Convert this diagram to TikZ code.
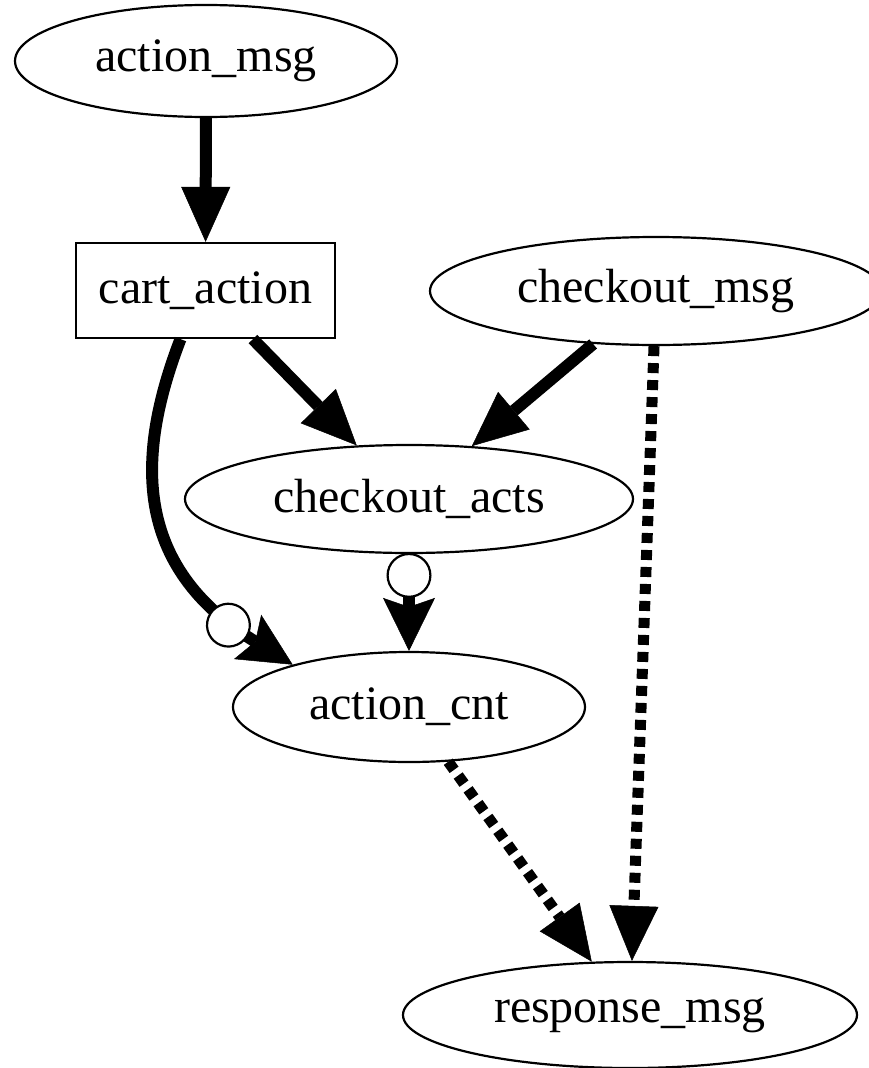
\documentclass[tikz,border=0pt]{standalone}
\usepackage{fontspec}
\setmainfont{Liberation Serif}
\usetikzlibrary{arrows.meta,shapes.geometric}
\begin{document}
\begin{tikzpicture}[x=1pt,y=-1pt,
  every node/.style={font=\fontsize{48}{58}\selectfont, inner sep=0pt},
  oval/.style={ellipse, draw, line width=2.2pt},
  box/.style={rectangle, draw, line width=2.2pt},
  bold/.style={line width=12pt, -{Triangle[length=55pt,width=49pt,line width=0.5pt]}},
  dots/.style={line width=11pt, dash pattern=on 10pt off 7pt,
    -{Triangle[length=55pt,width=49pt,line width=0.5pt]}},
  ringvee/.style={line width=12pt,
    -{Circle[fill=white,length=45pt,width=45pt,line width=2.2pt,sep=0pt]
      Stealth[length=53pt,width=52pt,inset=9pt,line width=0.5pt]}}
]
\useasboundingbox (0,0) rectangle (869,1068);

% nodes
\node[oval, minimum width=382pt, minimum height=112pt] (amsg) at (206,61) {action\_msg};
\node[box, minimum width=259pt, minimum height=95pt] (cart) at (205.5,290.5) {cart\_action};
\node[oval, minimum width=452pt, minimum height=108pt] (cmsg) at (656,291) {checkout\_msg};
\node[oval, minimum width=448pt, minimum height=108pt] (cacts) at (409,499) {checkout\_acts};
\node[oval, minimum width=352pt, minimum height=110pt] (acnt) at (409,707) {action\_cnt};
\node[oval, minimum width=454pt, minimum height=106pt] (rmsg) at (630,1015) {response\_msg};

% connectors
\draw[bold] (amsg) -- (cart);
\draw[bold] (cart) -- (cacts);
\draw[bold] (cmsg) -- (cacts);
\draw[ringvee] ([xshift=-25pt]cart.south) .. controls (130,470) and (142,572) .. (acnt.160);
\draw[ringvee] (cacts) -- (acnt);
\draw[dots] (acnt) -- (rmsg);
\draw[dots] (cmsg) -- (rmsg);
\end{tikzpicture}
\end{document}
